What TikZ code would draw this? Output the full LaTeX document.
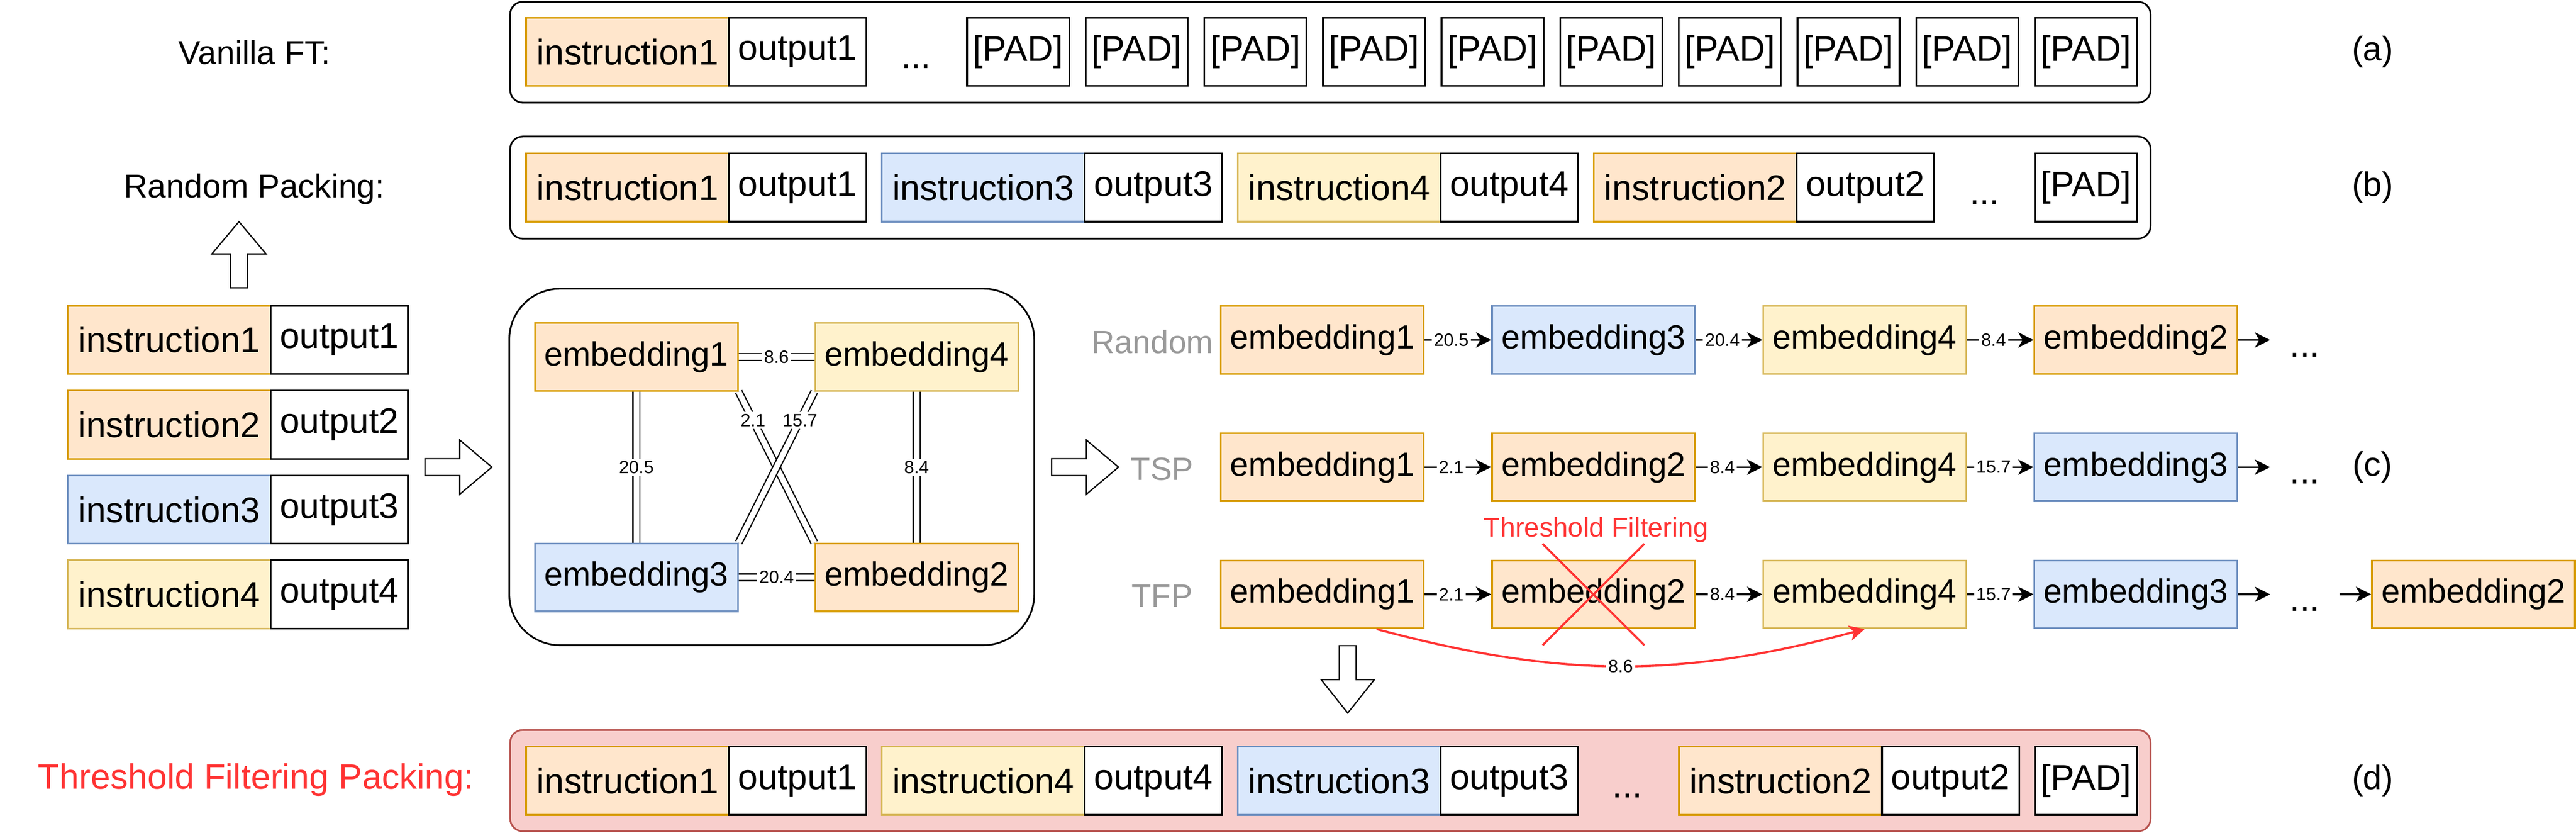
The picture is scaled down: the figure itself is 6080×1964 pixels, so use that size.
\documentclass[tikz,border=0pt]{standalone}
\usepackage{fontspec}
\setmainfont{Liberation Sans}
\usetikzlibrary{arrows.meta}

\definecolor{orfill}{HTML}{FFE6CC}
\definecolor{orline}{HTML}{D79B00}
\definecolor{blfill}{HTML}{DAE8FC}
\definecolor{blline}{HTML}{6C8EBF}
\definecolor{ylfill}{HTML}{FFF2CC}
\definecolor{ylline}{HTML}{D6B656}
\definecolor{rdfill}{HTML}{F8CECC}
\definecolor{rdline}{HTML}{B85450}
\definecolor{tred}{HTML}{FF3333}
\definecolor{tgray}{HTML}{999999}

\tikzset{
  cell/.style={draw, minimum height=16.1pt, inner sep=0pt, font=\fontsize{8.4}{10}\selectfont},
  instr/.style={cell, minimum width=47.9pt},
  outp/.style={cell, fill=white, minimum width=32.4pt},
  padcell/.style={cell, fill=white, minimum width=24.1pt},
  emb/.style={draw, minimum width=47.9pt, minimum height=16pt, inner sep=0pt, font=\fontsize{7.9}{9}\selectfont},
  orng/.style={fill=orfill, draw=orline},
  blu/.style={fill=blfill, draw=blline},
  ylw/.style={fill=ylfill, draw=ylline},
  ellip/.style={font=\fontsize{8.4}{10}\selectfont, text height=2ex, text depth=0.5ex, inner xsep=4.5pt, inner ysep=0pt},
  sidelab/.style={font=\fontsize{7.8}{9}\selectfont},
  rowlab/.style={text=tgray, font=\fontsize{7.6}{9}\selectfont},
  partlab/.style={font=\fontsize{8}{10}\selectfont},
  wlabel/.style={fill=white, inner sep=0.5pt, font=\fontsize{4.2}{5}\selectfont},
  link/.style={double, double distance=1.3pt, line width=0.3pt},
  seqbox/.style={draw, rounded corners=3pt},
  blockarrow/.style={draw, fill=white, line width=0.3pt},
  redline/.style={draw=tred, line width=0.5pt}
}

\begin{document}
\begin{tikzpicture}[x=0.1pt, y=-0.1pt, >={Stealth[length=3.6pt, width=3.6pt, inset=1pt]}]
    \useasboundingbox (0,0) rectangle (6080,1964);

    % (a) vanilla fine-tuning
    \node[sidelab] (vft) at (601,124) {Vanilla FT:};
    \draw[seqbox] (1204,4) rectangle (5076,242);
    \node[instr, orng] (a1i) at (1481,122) {instruction1};
    \node[outp] (a1o) at (1882.5,122) {output1};
    \node[ellip] (adots) at (2162,122) {...};
    \node[padcell] (ap1) at (2403,122) {[PAD]};
    \node[padcell] (ap2) at (2683,122) {[PAD]};
    \node[padcell] (ap3) at (2963,122) {[PAD]};
    \node[padcell] (ap4) at (3243,122) {[PAD]};
    \node[padcell] (ap5) at (3523,122) {[PAD]};
    \node[padcell] (ap6) at (3803,122) {[PAD]};
    \node[padcell] (ap7) at (4083,122) {[PAD]};
    \node[padcell] (ap8) at (4363,122) {[PAD]};
    \node[padcell] (ap9) at (4643,122) {[PAD]};
    \node[padcell] (ap10) at (4923.5,122) {[PAD]};
    \node[partlab] (la) at (5600,122) {(a)};

    % (b) random packing
    \node[sidelab] (rpk) at (600,446) {Random Packing:};
    \draw[seqbox] (1204,322) rectangle (5076,563);
    \node[instr, orng] (b1i) at (1481,442.5) {instruction1};
    \node[outp] (b1o) at (1882.5,442.5) {output1};
    \node[instr, blu] (b3i) at (2321,442.5) {instruction3};
    \node[outp] (b3o) at (2722.5,442.5) {output3};
    \node[instr, ylw] (b4i) at (3161,442.5) {instruction4};
    \node[outp] (b4o) at (3562.5,442.5) {output4};
    \node[instr, orng] (b2i) at (4001,442.5) {instruction2};
    \node[outp] (b2o) at (4402.5,442.5) {output2};
    \node[ellip] (bdots) at (4684,442.5) {...};
    \node[padcell] (bpad) at (4923.5,442.5) {[PAD]};
    \node[partlab] (lb) at (5600,442.5) {(b)};

    % samples
    \node[instr, orng] (l1i) at (399.5,801.5) {instruction1};
    \node[outp] (l1o) at (801,801.5) {output1};
    \node[instr, orng] (l2i) at (399.5,1002) {instruction2};
    \node[outp] (l2o) at (801,1002) {output2};
    \node[instr, blu] (l3i) at (399.5,1202) {instruction3};
    \node[outp] (l3o) at (801,1202) {output3};
    \node[instr, ylw] (l4i) at (399.5,1402) {instruction4};
    \node[outp] (l4o) at (801,1402) {output4};

    \draw[blockarrow, shift={(564,679)}, rotate=90]
    (0,-20) -- (80,-20) -- (80,-64) -- (156,0) -- (80,64) -- (80,20) -- (0,20) -- cycle;
    \draw[blockarrow, shift={(1003,1102)}]
    (0,-20) -- (82,-20) -- (82,-64) -- (158,0) -- (82,64) -- (82,20) -- (0,20) -- cycle;

    % distance graph
    \draw[rounded corners=12pt] (1202,681) rectangle (2441,1522);
    \node[emb, orng] (g1) at (1502,842) {embedding1};
    \node[emb, ylw] (g4) at (2163.5,842) {embedding4};
    \node[emb, blu] (g3) at (1502,1362) {embedding3};
    \node[emb, orng] (g2) at (2163.5,1362) {embedding2};
    \draw[link] (g1) -- node[wlabel] {8.6} (g4);
    \draw[link] (g3) -- node[wlabel] {20.4} (g2);
    \draw[link] (g1) -- node[wlabel] {20.5} (g3);
    \draw[link] (g4) -- node[wlabel] {8.4} (g2);
    \draw[link] (g1.south east) -- node[wlabel, pos=0.19] {2.1} (g2.north west);
    \draw[link] (g4.south west) -- node[wlabel, pos=0.19] {15.7} (g3.north east);

    \draw[blockarrow, shift={(2482,1102)}]
    (0,-20) -- (82,-20) -- (82,-64) -- (158,0) -- (82,64) -- (82,20) -- (0,20) -- cycle;

    % (c) orderings
    \node[rowlab] (rrand) at (2720,806) {Random};
    \node[emb, orng] (r1a) at (3121,802) {embedding1};
    \node[emb, blu] (r1b) at (3761,802) {embedding3};
    \node[emb, ylw] (r1c) at (4401,802) {embedding4};
    \node[emb, orng] (r1d) at (5041,802) {embedding2};
    \node[ellip] (r1e) at (5440,802) {...};
    \draw[->] (r1a) -- node[wlabel, pos=0.4] {20.5} (r1b);
    \draw[->] (r1b) -- node[wlabel, pos=0.4] {20.4} (r1c);
    \draw[->] (r1c) -- node[wlabel, pos=0.4] {8.4} (r1d);
    \draw[->] (r1d) -- (r1e);

    \node[rowlab] (rtsp) at (2743,1106) {TSP};
    \node[emb, orng] (r2a) at (3121,1102) {embedding1};
    \node[emb, orng] (r2b) at (3761,1102) {embedding2};
    \node[emb, ylw] (r2c) at (4401,1102) {embedding4};
    \node[emb, blu] (r2d) at (5041,1102) {embedding3};
    \node[ellip] (r2e) at (5440,1102) {...};
    \draw[->] (r2a) -- node[wlabel, pos=0.4] {2.1} (r2b);
    \draw[->] (r2b) -- node[wlabel, pos=0.4] {8.4} (r2c);
    \draw[->] (r2c) -- node[wlabel, pos=0.4] {15.7} (r2d);
    \draw[->] (r2d) -- (r2e);
    \node[partlab] (lc) at (5600,1102) {(c)};

    \node[rowlab] (rtfp) at (2743,1406) {TFP};
    \node[emb, orng] (r3a) at (3121,1402) {embedding1};
    \node[emb, orng] (r3b) at (3761,1402) {embedding2};
    \node[emb, ylw] (r3c) at (4401,1402) {embedding4};
    \node[emb, blu] (r3d) at (5041,1402) {embedding3};
    \node[ellip] (r3e) at (5440,1402) {...};
    \node[emb, orng] (r3f) at (5838,1402) {embedding2};
    \draw[->] (r3a) -- node[wlabel, pos=0.4] {2.1} (r3b);
    \draw[->] (r3b) -- node[wlabel, pos=0.4] {8.4} (r3c);
    \draw[->] (r3c) -- node[wlabel, pos=0.4] {15.7} (r3d);
    \draw[->] (r3d) -- (r3e);
    \draw[->] (r3e) -- (r3f);

    % threshold filtering
    \node[text=tred, font=\fontsize{6.4}{8}\selectfont] (thf) at (3767,1250) {Threshold Filtering};
    \draw[redline] ([shift={(-120,-119)}]r3b.center) -- ([shift={(120,120)}]r3b.center);
    \draw[redline] ([shift={(120,-119)}]r3b.center) -- ([shift={(-120,120)}]r3b.center);
    \draw[redline, ->] ([xshift=12.8pt]r3a.south) to[bend right=15]
    node[wlabel] {8.6} (r3c.south);

    \draw[blockarrow, shift={(3181,1523)}, rotate=-90]
    (0,-20) -- (80,-20) -- (80,-63) -- (159,0) -- (80,63) -- (80,20) -- (0,20) -- cycle;

    % (d) threshold filtering packing
    \node[sidelab, text=tred, font=\fontsize{8.3}{10}\selectfont] (tfpk) at (604,1840) {Threshold Filtering Packing:};
    \draw[seqbox, fill=rdfill, draw=rdline] (1204,1722) rectangle (5076,1961);
    \node[instr, orng] (d1i) at (1481,1842) {instruction1};
    \node[outp] (d1o) at (1882.5,1842) {output1};
    \node[instr, ylw] (d4i) at (2321,1842) {instruction4};
    \node[outp] (d4o) at (2722.5,1842) {output4};
    \node[instr, blu] (d3i) at (3161,1842) {instruction3};
    \node[outp] (d3o) at (3562.5,1842) {output3};
    \node[ellip] (ddots) at (3841,1842) {...};
    \node[instr, orng] (d2i) at (4202.5,1842) {instruction2};
    \node[outp] (d2o) at (4604,1842) {output2};
    \node[padcell] (dpad) at (4923.5,1842) {[PAD]};
    \node[partlab] (ld) at (5600,1842) {(d)};
\end{tikzpicture}
\end{document}
